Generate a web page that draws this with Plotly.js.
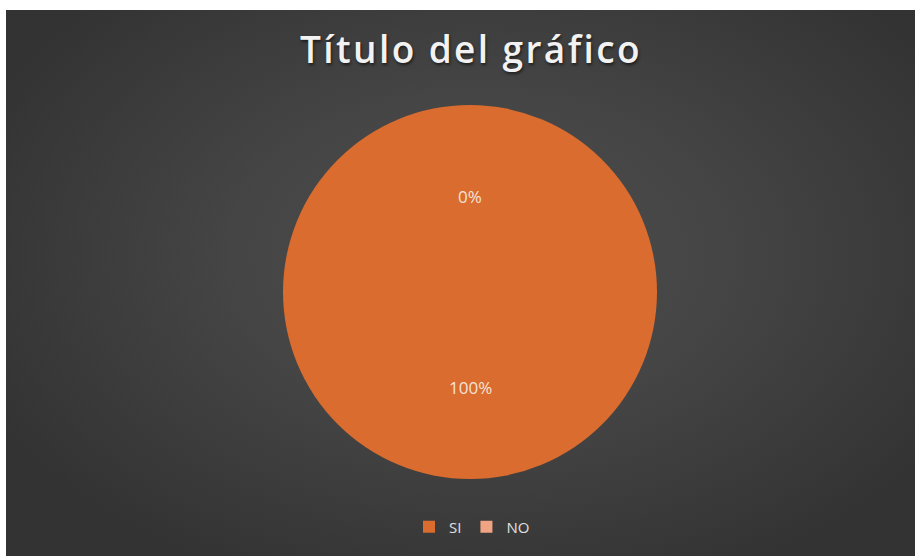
<!DOCTYPE html>
<html>
<head>
<meta charset="utf-8">
<script src="https://cdn.plot.ly/plotly-3.0.1.min.js"></script>
<style>
  html, body { margin: 0; padding: 0; background: #ffffff; }
  #wrap { position: relative; width: 915px; height: 556px; background: #ffffff; overflow: hidden; }
  #bg { position: absolute; left: 6px; top: 10px; width: 909px; height: 546px;
        background: radial-gradient(ellipse 60% 65% at 52% 45%, #4d4d4d 0%, #454545 45%, #333333 100%); }
  #chart { position: absolute; left: 0; top: 0; width: 915px; height: 556px; }
  #chart .gtitle { letter-spacing: 2.4px; }
</style>
</head>
<body>
<div id="wrap"><div id="bg"></div><div id="chart"></div></div>
<script>
const categories = ["SI", "NO"];
const values = [100, 0];
const sliceColors = ["#d96c2e", "#f0a483"];
const chartTitle = "Título del gráfico";

// Pie geometry (paper fractions)
const W = 915, H = 556;
const cxPx = 470, cyPx = 292, rPx = 187;
const domX = [(cxPx - rPx) / W, (cxPx + rPx) / W];
const domY = [(H - cyPx - rPx) / H, (H - cyPx + rPx) / H];

const total = values.reduce((a, b) => a + b, 0);

// Data labels placed at each slice's mid-angle (clockwise from 12 o'clock), like the original
const annotations = [];
let cum = 0;
values.forEach((v, i) => {
  const frac = v / total;
  const mid = (cum + frac / 2) * 2 * Math.PI;
  cum += frac;
  const k = 0.51;
  const xPx = cxPx + rPx * k * Math.sin(mid);
  const yPx = cyPx - rPx * k * Math.cos(mid);
  annotations.push({
    xref: "paper", yref: "paper",
    x: xPx / W, y: 1 - yPx / H,
    text: Math.round(frac * 100) + "%",
    showarrow: false,
    xanchor: "center", yanchor: "middle",
    font: { family: "Open Sans, sans-serif", size: 17, color: "#f6e3d6" }
  });
});

const trace = {
  type: "pie",
  labels: categories,
  values: values,
  sort: false,
  direction: "clockwise",
  rotation: 0,
  textinfo: "none",
  hoverinfo: "label+percent",
  marker: { colors: sliceColors, line: { width: 0 } },
  domain: { x: domX, y: domY },
  showlegend: true
};

const layout = {
  width: W, height: H,
  margin: { l: 0, r: 0, t: 0, b: 0 },
  paper_bgcolor: "rgba(0,0,0,0)",
  plot_bgcolor: "rgba(0,0,0,0)",
  title: {
    text: chartTitle,
    x: 471 / W, xanchor: "center",
    y: 1 - 50 / H, yanchor: "middle",
    font: { family: "Open Sans, sans-serif", size: 37, weight: 600, color: "#f2f2f2",
            shadow: "1px 2px 3px rgba(0,0,0,0.55)" }
  },
  legend: {
    orientation: "h",
    x: 472 / W, xanchor: "center",
    y: 1 - 527 / H, yanchor: "middle",
    font: { family: "Open Sans, sans-serif", size: 15, color: "#e0e0e0" },
    itemwidth: 30,
    traceorder: "normal",
    bgcolor: "rgba(0,0,0,0)"
  },
  annotations: annotations
};

Plotly.newPlot("chart", [trace], layout, { displayModeBar: false, staticPlot: true });
</script>
</body>
</html>
